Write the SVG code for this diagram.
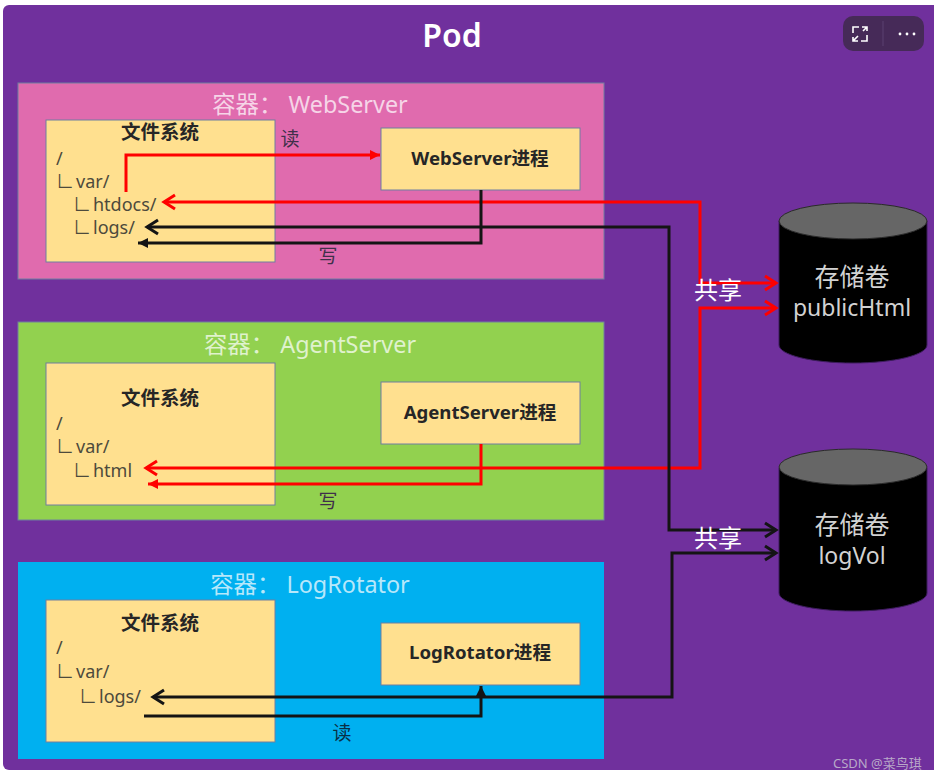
<svg xmlns="http://www.w3.org/2000/svg" width="934" height="772" viewBox="0 0 934 772">
  <style>
    text { font-family: "Noto Sans", "Noto Sans CJK SC", sans-serif; }
    .box { fill: #ffe08f; stroke: #6f7fa0; stroke-width: 1; }
    .container { stroke: #6f7fa0; stroke-width: 1; }
    .ctitle { font-size: 23.4px; fill: #ffffff; fill-opacity: 0.72; text-anchor: middle; }
    .fstitle { font-size: 19.5px; font-weight: 700; fill: #262626; text-anchor: middle; }
    .tree { font-size: 18px; fill: #4d4a3c; }
    .gap { dx: 2px; }
    .proc { font-size: 18.6px; font-weight: 700; fill: #262626; text-anchor: middle; }
    .note { font-size: 19px; fill: #40304a; text-anchor: middle; }
    .vol { font-size: 23px; fill: #d2d2d2; text-anchor: middle; }
    .volcn { font-size: 25px; fill: #d2d2d2; text-anchor: middle; }
    .share { font-size: 24px; fill: #ffffff; text-anchor: middle; }
    .red { fill: none; stroke: #ff0000; stroke-width: 3; stroke-linejoin: miter; }
    .blk { fill: none; stroke: #141414; stroke-width: 3; stroke-linejoin: miter; }
    .drum { fill: #000000; stroke: #3c1c5c; stroke-width: 1; }
    .lid { fill: #666666; stroke: #2a2a2a; stroke-width: 1; }
  </style>
  <defs>
    <marker id="openRed" markerUnits="userSpaceOnUse" markerWidth="16" markerHeight="18" refX="13" refY="9" orient="auto-start-reverse">
      <path d="M2 2 L13 9 L2 16" fill="none" stroke="#ff0000" stroke-width="3"/>
    </marker>
    <marker id="openBlk" markerUnits="userSpaceOnUse" markerWidth="16" markerHeight="18" refX="13" refY="9" orient="auto-start-reverse">
      <path d="M2 2 L13 9 L2 16" fill="none" stroke="#141414" stroke-width="3"/>
    </marker>
    <marker id="solidRed" markerUnits="userSpaceOnUse" markerWidth="11" markerHeight="12" refX="10" refY="6" orient="auto">
      <path d="M0 1 L10 6 L0 11 Z" fill="#ff0000"/>
    </marker>
    <marker id="solidBlk" markerUnits="userSpaceOnUse" markerWidth="11" markerHeight="12" refX="10" refY="6" orient="auto">
      <path d="M0 1 L10 6 L0 11 Z" fill="#141414"/>
    </marker>
  </defs>

  <rect width="934" height="772" fill="#ffffff"/>

  <g id="pod">
    <rect x="3" y="5" width="940" height="765" rx="6" fill="#70309d"/>
    <text x="452" y="47" font-size="32" font-weight="600" fill="#ffffff" text-anchor="middle">Pod</text>
  </g>

  <g id="container-webserver">
    <rect class="container" x="18" y="83" width="586" height="196" fill="#e06bae"/>
    <text class="ctitle" x="310" y="113">容器： WebServer</text>
  </g>
  <g id="fs-webserver">
    <rect class="box" x="46" y="120" width="229" height="142"/>
    <text class="fstitle" x="160" y="139">文件系统</text>
    <text class="tree" x="56" y="165">/</text>
    <text class="tree" x="56" y="188">∟<tspan dx="2">var/</tspan></text>
    <text class="tree" x="73" y="211">∟<tspan dx="2">htdocs/</tspan></text>
    <text class="tree" x="73" y="234">∟<tspan dx="2">logs/</tspan></text>
  </g>
  <g id="proc-webserver">
    <rect class="box" x="381" y="128" width="199" height="62"/>
    <text class="proc" x="480" y="165">WebServer进程</text>
  </g>

  <g id="container-agentserver">
    <rect class="container" x="18" y="322" width="586" height="198" fill="#92d14f"/>
    <text class="ctitle" x="310" y="353">容器： AgentServer</text>
  </g>
  <g id="fs-agentserver">
    <rect class="box" x="46" y="363" width="229" height="142"/>
    <text class="fstitle" x="160" y="405">文件系统</text>
    <text class="tree" x="56" y="430">/</text>
    <text class="tree" x="56" y="453">∟<tspan dx="2">var/</tspan></text>
    <text class="tree" x="73" y="477">∟<tspan dx="2">html</tspan></text>
  </g>
  <g id="proc-agentserver">
    <rect class="box" x="381" y="382" width="199" height="62"/>
    <text class="proc" x="480" y="419">AgentServer进程</text>
  </g>

  <g id="container-logrotator">
    <rect x="18" y="562" width="586" height="197" fill="#00b0f0"/>
    <text class="ctitle" x="310" y="593">容器： LogRotator</text>
  </g>
  <g id="fs-logrotator">
    <rect class="box" x="46" y="600" width="229" height="142"/>
    <text class="fstitle" x="160" y="630">文件系统</text>
    <text class="tree" x="56" y="654">/</text>
    <text class="tree" x="56" y="678">∟<tspan dx="2">var/</tspan></text>
    <text class="tree" x="79" y="703">∟<tspan dx="2">logs/</tspan></text>
  </g>
  <g id="proc-logrotator">
    <rect class="box" x="381" y="623" width="199" height="62"/>
    <text class="proc" x="480" y="659">LogRotator进程</text>
  </g>

  <g id="volume-publichtml">
    <path class="drum" d="M779 221 V345 C779 355 812 363 853 363 C894 363 927 355 927 345 V221 Z"/>
    <ellipse class="lid" cx="853" cy="221" rx="74" ry="18"/>
    <text class="volcn" x="852" y="286">存储卷</text>
    <text class="vol" x="852" y="316">publicHtml</text>
  </g>
  <g id="volume-logvol">
    <path class="drum" d="M779 468 V593 C779 603 812 611 853 611 C894 611 927 603 927 593 V468 Z"/>
    <ellipse class="lid" cx="853" cy="467" rx="74" ry="18"/>
    <text class="volcn" x="852" y="534">存储卷</text>
    <text class="vol" x="852" y="564">logVol</text>
  </g>

  <g id="connectors">
    <path class="red" d="M126 192 V155 H380" marker-end="url(#solidRed)"/>
    <path class="red" d="M164 202 H700 V283 H776" marker-start="url(#openRed)" marker-end="url(#openRed)"/>
    <path class="red" d="M146 468 H700 V308 H776" marker-start="url(#openRed)" marker-end="url(#openRed)"/>
    <path class="red" d="M481 444 V484 H148" marker-end="url(#solidRed)"/>
    <path class="blk" d="M481 190 V243 H138" marker-end="url(#solidBlk)"/>
    <path class="blk" d="M147 227 H669 V530 H776" marker-start="url(#openBlk)" marker-end="url(#openBlk)"/>
    <path class="blk" d="M153 697 H672 V553 H776" marker-start="url(#openBlk)" marker-end="url(#openBlk)"/>
    <path class="blk" d="M144 716 H481 V686" marker-end="url(#solidBlk)"/>
  </g>

  <g id="labels">
    <text class="note" x="290" y="146">读</text>
    <text class="note" x="328" y="263">写</text>
    <text class="note" x="328" y="508">写</text>
    <text x="342" y="740" font-size="19" fill="#0a2f45" text-anchor="middle">读</text>
    <text class="share" x="718" y="299">共享</text>
    <text class="share" x="718" y="547">共享</text>
  </g>

  <g id="toolbar">
    <rect x="843" y="16" width="81" height="35" rx="10" fill="#462a58"/>
    <path d="M859 27 H853 V33 M861 41 H867 V35 M867 31 V27 H862 M853 37 V41 H858 M863 31 L867 27 M853 41 L858 36" fill="none" stroke="#ffffff" stroke-width="1.6"/>
    <path d="M883 21 V46" stroke="#5a4070" stroke-width="1"/>
    <circle cx="900" cy="34" r="1.4" fill="#ffffff"/>
    <circle cx="907" cy="34" r="1.4" fill="#ffffff"/>
    <circle cx="914" cy="34" r="1.4" fill="#ffffff"/>
  </g>

  <text x="833" y="768" font-size="13" fill="#b8a8c8">CSDN @菜鸟琪</text>
</svg>
